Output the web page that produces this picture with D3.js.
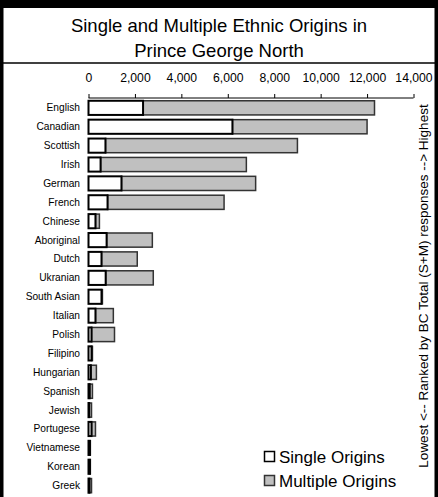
<!DOCTYPE html>
<html><head><meta charset="utf-8">
<script src="https://cdn.jsdelivr.net/npm/d3@7"></script>
<style>body{margin:0;background:#fff}svg{display:block;font-family:"Liberation Sans",Arial,sans-serif}</style>
</head><body><svg id="c" width="438" height="497"></svg>
<script>
const categories = ["English","Canadian","Scottish","Irish","German","French","Chinese","Aboriginal","Dutch","Ukranian","South Asian","Italian","Polish","Filipino","Hungarian","Spanish","Jewish","Portugese","Vietnamese","Korean","Greek"];
const singleOrigins = [2350,6200,730,520,1420,820,300,780,560,740,560,300,130,130,100,50,30,130,60,60,40];
const multipleOrigins = [9970,5800,8270,6280,5780,5020,170,1970,1540,2050,40,770,990,40,240,120,100,170,20,20,90];
const tickValues = [0,2000,4000,6000,8000,10000,12000,14000];
const titleLines = ["Single and Multiple Ethnic Origins in","Prince George North"];
const seriesNames = ["Single Origins","Multiple Origins"];
const sideLabel = "Lowest <-- Ranked by BC Total (S+M) responses --> Highest";

const svg = d3.select("#c");
const W = 438, H = 497;
svg.append("rect").attr("x",0).attr("y",0).attr("width",W).attr("height",H).attr("fill","#fff");
// frame
svg.append("rect").attr("x",0).attr("y",0).attr("width",W).attr("height",8).attr("fill","#000");
svg.append("rect").attr("x",0).attr("y",0).attr("width",3.5).attr("height",H).attr("fill","#000");
svg.append("rect").attr("x",434.5).attr("y",0).attr("width",3.5).attr("height",H).attr("fill","#000");
svg.append("line").attr("x1",0).attr("x2",W).attr("y1",63).attr("y2",63).attr("stroke","#000").attr("stroke-width",1.5);

svg.selectAll("text.title").data(titleLines).join("text").attr("class","title")
  .attr("x",219).attr("y",(d,i)=>32+i*25).attr("text-anchor","middle")
  .attr("font-size",18.5).attr("fill","#000").text(d=>d);

const x = d3.scaleLinear().domain([0,14000]).range([88.5,413.5]);
const y = d3.scaleBand().domain(categories).range([98.5,495]).paddingInner(0.25).paddingOuter(0.12);

const axis = d3.axisTop(x).tickValues(tickValues).tickSize(4).tickPadding(12)
  .tickFormat(d3.format(","));
const ag = svg.append("g").attr("transform","translate(0,98)").call(axis);
ag.select(".domain").attr("stroke","#000").attr("d","M88.5,0H413.5");
ag.selectAll(".tick line").attr("stroke","#000");
ag.selectAll(".tick text").attr("font-size",12.2).attr("fill","#000").attr("font-family","Liberation Sans, Arial, sans-serif");

svg.selectAll("text.cat").data(categories).join("text").attr("class","cat")
  .attr("x",80).attr("y",d=>y(d)+y.bandwidth()/2+3.5).attr("text-anchor","end")
  .attr("font-size",10.2).attr("fill","#000").text(d=>d);

svg.selectAll("rect.mult").data(categories).join("rect").attr("class","mult")
  .attr("x",(d,i)=>x(singleOrigins[i])).attr("y",d=>y(d))
  .attr("width",(d,i)=>x(singleOrigins[i]+multipleOrigins[i])-x(singleOrigins[i]))
  .attr("height",y.bandwidth()).attr("fill","#c0c0c0").attr("stroke","#333").attr("stroke-width",1.5);
svg.selectAll("rect.sing").data(categories).join("rect").attr("class","sing")
  .attr("x",x(0)).attr("y",d=>y(d))
  .attr("width",(d,i)=>x(singleOrigins[i])-x(0))
  .attr("height",y.bandwidth()).attr("fill","#fff").attr("stroke","#000").attr("stroke-width",2);

// legend
const lg = svg.append("g");
const lgColors = ["#fff","#c0c0c0"];
seriesNames.forEach((n,i)=>{
  lg.append("rect").attr("x",264.5).attr("y",451.5+i*24).attr("width",10).attr("height",10)
    .attr("fill",lgColors[i]).attr("stroke",i?"#333":"#000").attr("stroke-width",1.5);
  lg.append("text").attr("x",279).attr("y",463+i*24).attr("font-size",17).attr("fill","#000").text(n);
});

svg.append("text").attr("transform","translate(428,286) rotate(-90)").attr("text-anchor","middle")
  .attr("font-size",13.5).attr("fill","#000").text(sideLabel);
</script></body></html>
